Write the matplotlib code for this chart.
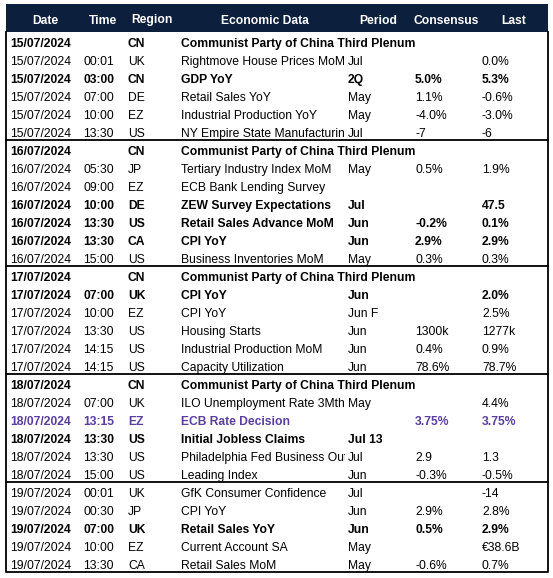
import matplotlib
matplotlib.use("Agg")
import matplotlib.pyplot as plt
from matplotlib.patches import Rectangle
from matplotlib.transforms import Bbox, TransformedBbox

columns = ["Date", "Time", "Region", "Economic Data", "Period", "Consensus", "Last"]

dates = ["15/07/2024"] * 6 + ["16/07/2024"] * 7 + ["17/07/2024"] * 6 + ["18/07/2024"] * 6 + ["19/07/2024"] * 5
times = ["", "00:01", "03:00", "07:00", "10:00", "13:30",
         "", "05:30", "09:00", "10:00", "13:30", "13:30", "15:00",
         "", "07:00", "10:00", "13:30", "14:15", "14:15",
         "", "07:00", "13:15", "13:30", "13:30", "15:00",
         "00:01", "00:30", "07:00", "10:00", "13:30"]
regions = ["CN", "UK", "CN", "DE", "EZ", "US",
           "CN", "JP", "EZ", "DE", "US", "CA", "US",
           "CN", "UK", "EZ", "US", "US", "US",
           "CN", "UK", "EZ", "US", "US", "US",
           "UK", "JP", "UK", "EZ", "CA"]
plenum = "Communist Party of China Third Plenum"
events = [plenum, "Rightmove House Prices MoM", "GDP YoY", "Retail Sales YoY",
          "Industrial Production YoY", "NY Empire State Manufacturing",
          plenum, "Tertiary Industry Index MoM", "ECB Bank Lending Survey",
          "ZEW Survey Expectations", "Retail Sales Advance MoM", "CPI YoY",
          "Business Inventories MoM",
          plenum, "CPI YoY", "CPI YoY", "Housing Starts", "Industrial Production MoM",
          "Capacity Utilization",
          plenum, "ILO Unemployment Rate 3Mths", "ECB Rate Decision",
          "Initial Jobless Claims", "Philadelphia Fed Business Outlook", "Leading Index",
          "GfK Consumer Confidence", "CPI YoY", "Retail Sales YoY", "Current Account SA",
          "Retail Sales MoM"]
periods = ["", "Jul", "2Q", "May", "May", "Jul",
           "", "May", "", "Jul", "Jun", "Jun", "May",
           "", "Jun", "Jun F", "Jun", "Jun", "Jun",
           "", "May", "", "Jul 13", "Jul", "Jun",
           "Jul", "Jun", "Jun", "May", "May"]
consensus = ["", "", "5.0%", "1.1%", "-4.0%", "-7",
             "", "0.5%", "", "", "-0.2%", "2.9%", "0.3%",
             "", "", "", "1300k", "0.4%", "78.6%",
             "", "", "3.75%", "", "2.9", "-0.3%",
             "", "2.9%", "0.5%", "", "-0.6%"]
last = ["", "0.0%", "5.3%", "-0.6%", "-3.0%", "-6",
        "", "1.9%", "", "47.5", "0.1%", "2.9%", "0.3%",
        "", "2.0%", "2.5%", "1277k", "0.9%", "78.7%",
        "", "4.4%", "3.75%", "", "1.3", "-0.5%",
        "-14", "2.8%", "2.9%", "\u20ac38.6B", "0.7%"]

bold_rows = [0, 2, 6, 9, 10, 11, 13, 14, 19, 21, 22, 27]
purple_rows = [21]
group_ends = [5, 12, 18, 24]

# layout in pixels
W, H = 553, 578
left, right = 6, 548
top, head_h, row_h = 4, 28, 18
col_x = [10, 83, 128, 181, 348, 415, 482]
head_cx = [45, 103, 152, 265, 378, 446, 514]
clip_right = 345

fig = plt.figure(figsize=(W / 100, H / 100), dpi=100)
ax = fig.add_axes([0, 0, 1, 1])
ax.set_xlim(0, W)
ax.set_ylim(H, 0)
ax.axis("off")

font = "Liberation Sans"
fs = 8.7

ax.add_patch(Rectangle((left, top), right - left, head_h, facecolor="#0c203e", edgecolor="none"))
for name, cx in zip(columns, head_cx):
    ax.text(cx, top + 19.5, name, color="white", fontweight="bold",
            ha="center", va="baseline", fontsize=fs, family=font)

body_top = top + head_h
n = len(dates)
body_bot = body_top + n * row_h

clip_box = TransformedBbox(Bbox([[0, 0], [clip_right, H]]), ax.transData)

for i in range(n):
    y = body_top + row_h * i + 14.8
    weight = "bold" if i in bold_rows else "normal"
    color = "#5a3d9e" if i in purple_rows else "black"
    vals = [dates[i], times[i], regions[i], events[i], periods[i], consensus[i], last[i]]
    for j, (v, x) in enumerate(zip(vals, col_x)):
        if not v:
            continue
        t = ax.text(x, y, v, ha="left", va="baseline", fontsize=fs, family=font,
                    fontweight=weight, color=color)
        # event text runs over into the period column only when that cell is empty
        if j == 3 and periods[i]:
            t.set_clip_box(clip_box)
            t.set_clip_on(True)

for g in group_ends:
    yy = body_top + row_h * (g + 1)
    ax.plot([left, right], [yy, yy], color="black", lw=1.3)

ax.plot([left, left, right, right], [body_top, body_bot, body_bot, body_top], color="black", lw=1.3)

fig.savefig("out.png", dpi=100)
